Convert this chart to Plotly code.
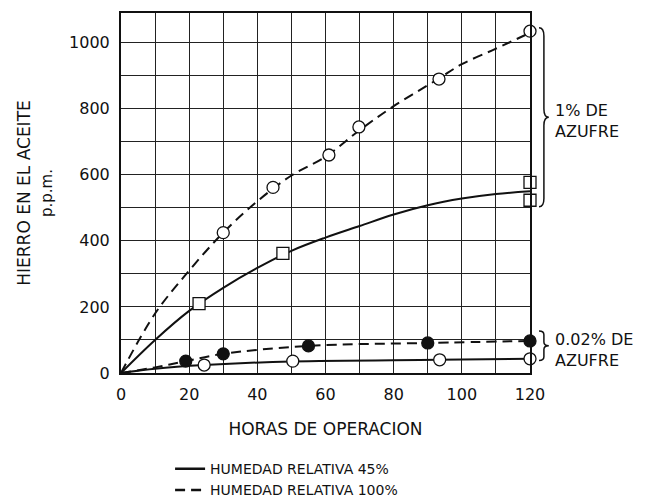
import plotly.graph_objects as go

# ---------------- data ----------------
# 1% sulfur, relative humidity 100% (dashed curve, open circles)
s1_rh100_pts_x = [30, 44.6, 61, 69.8, 93.3, 120]
s1_rh100_pts_y = [425, 562, 660, 745, 890, 1035]
s1_rh100_curve_x = [0, 10, 20, 30, 40, 50, 60, 70, 80, 93, 100, 110, 120]
s1_rh100_curve_y = [0, 180, 310, 425, 520, 598, 655, 735, 808, 890, 935, 982, 1030]

# 1% sulfur, relative humidity 45% (solid curve, open squares)
s1_rh45_pts_x = [22.9, 47.5, 120, 120]
s1_rh45_pts_y = [210, 362, 577, 523]
s1_rh45_curve_x = [0, 10, 20, 30, 40, 50, 60, 70, 80, 90, 100, 110, 120]
s1_rh45_curve_y = [0, 100, 188, 258, 318, 370, 410, 445, 480, 508, 528, 542, 550]

# 0.02% sulfur, relative humidity 100% (dashed curve, filled circles)
s002_rh100_pts_x = [19, 30, 55, 90, 120]
s002_rh100_pts_y = [36, 58, 82, 91, 97]
s002_rh100_curve_x = [0, 10, 19, 30, 55, 90, 120]
s002_rh100_curve_y = [0, 17, 36, 58, 82, 91, 97]

# 0.02% sulfur, relative humidity 45% (solid curve, open circles)
s002_rh45_pts_x = [24.4, 50.4, 93.5, 120]
s002_rh45_pts_y = [24, 36, 40, 43]
s002_rh45_curve_x = [0, 10, 24.4, 50, 93, 120]
s002_rh45_curve_y = [0, 13, 24, 35, 40, 43]

x_ticks = [0, 20, 40, 60, 80, 100, 120]
y_ticks = [0, 200, 400, 600, 800, 1000]

legend_names = ["HUMEDAD RELATIVA 45%", "HUMEDAD RELATIVA 100%"]

FONT = "DejaVu Sans"
INK = "#111111"
DASH = "10px,6px"

fig = go.Figure()

def curve(x, y, dash):
    fig.add_trace(go.Scatter(x=x, y=y, mode="lines", showlegend=False,
                             line=dict(color=INK, width=2, dash=dash, shape="spline", smoothing=1.0),
                             hoverinfo="skip"))

def points(x, y, symbol, fill):
    fig.add_trace(go.Scatter(x=x, y=y, mode="markers", showlegend=False, cliponaxis=False,
                             marker=dict(symbol=symbol, size=12, color=fill,
                                         line=dict(color=INK, width=1.3))))

curve(s1_rh100_curve_x, s1_rh100_curve_y, DASH)
curve(s1_rh45_curve_x, s1_rh45_curve_y, "solid")
curve(s002_rh100_curve_x, s002_rh100_curve_y, DASH)
curve(s002_rh45_curve_x, s002_rh45_curve_y, "solid")

points(s1_rh100_pts_x, s1_rh100_pts_y, "circle", "white")
points(s1_rh45_pts_x, s1_rh45_pts_y, "square", "white")
points(s002_rh100_pts_x, s002_rh100_pts_y, "circle", INK)
points(s002_rh45_pts_x, s002_rh45_pts_y, "circle", "white")

# legend entries (line style key)
fig.add_trace(go.Scatter(x=[None], y=[None], mode="lines", name=legend_names[0],
                         line=dict(color=INK, width=2.5)))
fig.add_trace(go.Scatter(x=[None], y=[None], mode="lines", name=legend_names[1],
                         line=dict(color=INK, width=2.5, dash=DASH)))

# braces grouping the curves by sulfur content (spanning the values at the last hour)
def end_values(*series):
    vals = []
    for xs, ys in series:
        vals += [y for x, y in zip(xs, ys) if x == max(xs)]
    return vals

def brace(y_top, y_bot, x_end=1.022, x_tip=1.046):
    xs = (x_end + x_tip) / 2
    ym = (y_top + y_bot) / 2
    r = min(abs(y_top - y_bot) / 8, 25)
    path = (f"M {x_end},{y_top} Q {xs},{y_top} {xs},{y_top - r} "
            f"L {xs},{ym + r} Q {xs},{ym} {x_tip},{ym} "
            f"Q {xs},{ym} {xs},{ym - r} "
            f"L {xs},{y_bot + r} Q {xs},{y_bot} {x_end},{y_bot}")
    fig.add_shape(type="path", path=path, xref="paper", yref="y",
                  line=dict(color=INK, width=1.5))
    return ym

v1 = end_values((s1_rh100_pts_x, s1_rh100_pts_y), (s1_rh45_pts_x, s1_rh45_pts_y))
v2 = end_values((s002_rh100_pts_x, s002_rh100_pts_y), (s002_rh45_pts_x, s002_rh45_pts_y))
groups = [
    ("1% DE<br>AZUFRE", max(v1) + 10, min(v1) - 20),
    ("0.02% DE<br>AZUFRE", max(v2) + 30, min(v2) - 5),
]
for label, top, bot in groups:
    ym = brace(top, bot)
    fig.add_annotation(x=1.056, y=ym - 12, xref="paper", yref="y", text=label,
                       showarrow=False, xanchor="left", yanchor="middle", align="left",
                       font=dict(family=FONT, size=16, color=INK))

axis_common = dict(
    showline=True, mirror=True, linecolor=INK, linewidth=2,
    showgrid=True, gridcolor="#222222", gridwidth=1.2,
    zeroline=False, ticks="", ticklabelstandoff=6,
    tickfont=dict(family=FONT, size=16, color=INK),
)

fig.update_xaxes(range=[0, 120], tickvals=x_ticks,
                 minor=dict(dtick=10, tick0=0, showgrid=True, gridcolor="#222222", gridwidth=1.2),
                 title=dict(text="HORAS DE OPERACION", standoff=20,
                            font=dict(family=FONT, size=17, color=INK)),
                 **axis_common)
fig.update_yaxes(range=[0, 1090], tickvals=y_ticks,
                 minor=dict(dtick=100, tick0=0, showgrid=True, gridcolor="#222222", gridwidth=1.2),
                 title=dict(text="HIERRO EN EL ACEITE<br><span style='font-size:15px'>p.p.m.</span>",
                            standoff=12, font=dict(family=FONT, size=17, color=INK)),
                 **axis_common)

fig.update_layout(
    width=655, height=498,
    margin=dict(l=121, r=125, t=13, b=125, autoexpand=False),
    paper_bgcolor="white", plot_bgcolor="white",
    font=dict(family=FONT, color=INK),
    legend=dict(x=0.12, y=0.09, xanchor="left", yanchor="top", yref="container",
                font=dict(family=FONT, size=14, color=INK),
                bgcolor="rgba(0,0,0,0)", tracegroupgap=0, itemwidth=30),
    showlegend=True,
)

fig.write_html("out.html")
